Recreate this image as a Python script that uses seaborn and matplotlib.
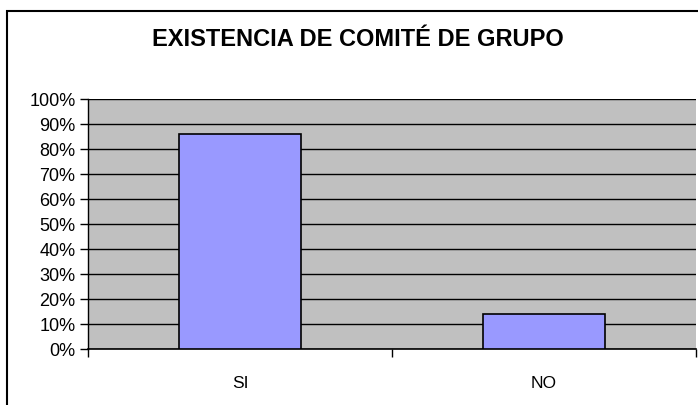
import matplotlib
matplotlib.use("Agg")
import matplotlib.pyplot as plt
import matplotlib.patches as mpatches
from matplotlib.ticker import FixedLocator, PercentFormatter
import pandas as pd
import seaborn as sns

# datos
categorias = ["SI", "NO"]
porcentajes = [86, 14]

df = pd.DataFrame({"cat": categorias, "pct": porcentajes})

sns.set_style("white")
plt.rcParams["font.family"] = ["Liberation Sans", "DejaVu Sans"]
plt.rcParams["text.color"] = "black"
plt.rcParams["xtick.color"] = "black"
plt.rcParams["ytick.color"] = "black"
plt.rcParams["xtick.labelcolor"] = "black"
plt.rcParams["ytick.labelcolor"] = "black"

fig = plt.figure(figsize=(6.98, 4.06), dpi=100)
ax = fig.add_axes([88 / 698, 1 - 350 / 406, 608 / 698, 250 / 406])
ax.set_facecolor("#C0C0C0")

sns.barplot(data=df, x="cat", y="pct", ax=ax, color="#9999FF",
            edgecolor="black", linewidth=1.2, width=0.4, saturation=1, zorder=3)

ax.set_ylim(0, 100)
ax.set_xlim(-0.5, 1.5)
ax.yaxis.set_major_locator(FixedLocator(range(0, 101, 10)))
ax.yaxis.set_major_formatter(PercentFormatter(decimals=0))
ax.grid(axis="y", color="black", linewidth=1, zorder=1)
ax.set_axisbelow(True)

# ticks en los limites de categoria, como Excel
ax.xaxis.set_minor_locator(FixedLocator([-0.5, 0.5, 1.5]))
ax.tick_params(axis="x", which="major", length=0, pad=19, labelsize=12.5)
ax.tick_params(axis="x", which="minor", length=6, width=1, color="black", direction="out", bottom=True)
ax.tick_params(axis="y", length=6, width=1, color="black", direction="out", left=True, labelsize=13, pad=3)

for s in ["top", "right"]:
    ax.spines[s].set_visible(False)
ax.spines["left"].set_color("black")
ax.spines["bottom"].set_color("black")
ax.spines["left"].set_linewidth(1)
ax.spines["bottom"].set_linewidth(1.2)

ax.set_xlabel("")
ax.set_ylabel("")

fig.text(358 / 698, 1 - 40 / 406, "EXISTENCIA DE COMITÉ DE GRUPO",
         ha="center", va="center", fontsize=17, fontweight="bold", color="black")

# marco del grafico
fig.patches.append(mpatches.Rectangle((7 / 698, -0.1), 1.2, 1.1 - 12 / 406,
                                      transform=fig.transFigure, fill=False,
                                      edgecolor="black", linewidth=1.5))

fig.savefig("out.png", dpi=100)
